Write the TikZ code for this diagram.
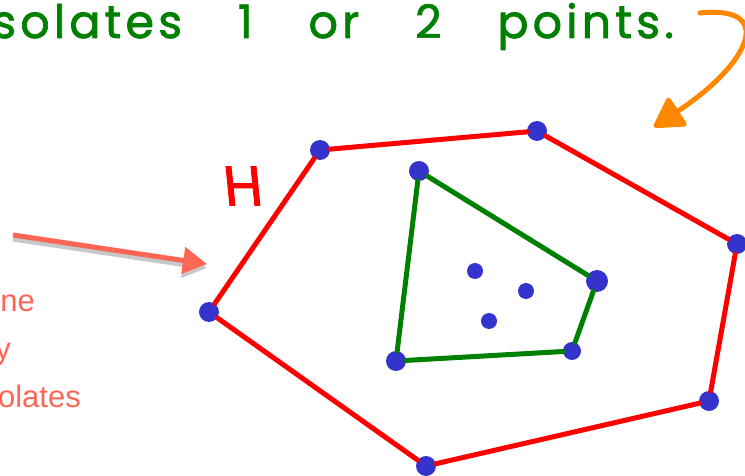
\documentclass[tikz,border=0pt]{standalone}
\usepackage{fontspec}
\setmainfont{Liberation Sans}
\newfontfamily\handfont{Poppins}[FakeBold=1.6]
\newfontfamily\handwide{Poppins}[LetterSpace=9, WordSpace=3.4, FakeBold=1.6]
\usetikzlibrary{arrows.meta}

\begin{document}
\begin{tikzpicture}[
    x=1pt, y=-1pt,
    hullpt/.style={
        circle,
        fill=dotcol,
        inner sep=0pt,
        minimum size=20pt
    },
    innerpt/.style={
        circle,
        fill=dotcol,
        inner sep=0pt,
        minimum size=16pt
    },
    redhull/.style={draw=hullred, line width=5pt, line cap=round},
    greenhull/.style={draw=hullgreen, line width=5pt, line cap=round},
    notelabel/.style={
        font=\fontsize{31}{34}\selectfont,
        text=notecol,
        inner sep=0pt,
        anchor=base east
    }
]

\definecolor{dotcol}{RGB}{52,52,204}
\definecolor{hullred}{RGB}{255,0,0}
\definecolor{hullgreen}{RGB}{0,128,0}
\definecolor{notecol}{RGB}{255,102,85}
\definecolor{shadowcol}{RGB}{200,200,200}
\definecolor{curlorange}{RGB}{255,136,0}

\useasboundingbox (0,0) rectangle (745,476);
\clip (0,0) rectangle (745,476);

% caption across the top
\node[anchor=base west, inner sep=0pt, text=hullgreen,
      font=\handwide\fontsize{46}{50}\selectfont] (caption) at (-8,38)
    {solates 1 or 2 points.};

% curled arrow on the right
\coordinate (curlstart) at (700,13);
\coordinate (curltip) at (654,127);
\draw[curlorange, line width=5pt, line cap=round,
      -{Triangle[length=32pt, width=36pt, round]}]
    (curlstart) .. controls (775,5) and (752,62) .. (curltip);

% note on the left
\node[notelabel] (notea) at (35,311) {ne};
\node[notelabel] (noteb) at (11,359) {y};
\node[notelabel] (notec) at (81,407) {olates};

\coordinate (arrtail) at (13,235);
\coordinate (arrtip) at (207,264);
\draw[shadowcol, line width=5pt, -{Triangle[length=24pt, width=26pt]}]
    ([yshift=-4pt]arrtail) -- ([yshift=-4pt]arrtip);
\draw[notecol, line width=5pt, -{Triangle[length=24pt, width=26pt]}]
    (arrtail) -- (arrtip);

\node[text=hullred, inner sep=0pt, xslant=-0.1,
      font=\handfont\fontsize{56}{60}\selectfont] (hlabel) at (243,186) {H};

% outer hull
\node[hullpt] (h1) at (209,312) {};
\node[hullpt] (h2) at (320,150) {};
\node[hullpt] (h3) at (537,131) {};
\node[hullpt] (h4) at (737,244) {};
\node[hullpt] (h5) at (709,401) {};
\node[hullpt] (h6) at (426,466) {};

\draw[redhull] (h1) -- (h2) -- (h3) -- (h4) -- (h5) -- (h6) -- (h1);

% inner hull
\node[hullpt] (g1) at (419,171) {};
\node[hullpt, minimum size=22pt] (g2) at (597,281) {};
\node[hullpt, minimum size=18pt] (g3) at (572,351) {};
\node[hullpt] (g4) at (396,361) {};

\draw[greenhull] (g1) -- (g2) -- (g3) -- (g4) -- (g1);

\node[innerpt] (p1) at (475,271) {};
\node[innerpt] (p2) at (526,291) {};
\node[innerpt] (p3) at (489,321) {};

\end{tikzpicture}
\end{document}
